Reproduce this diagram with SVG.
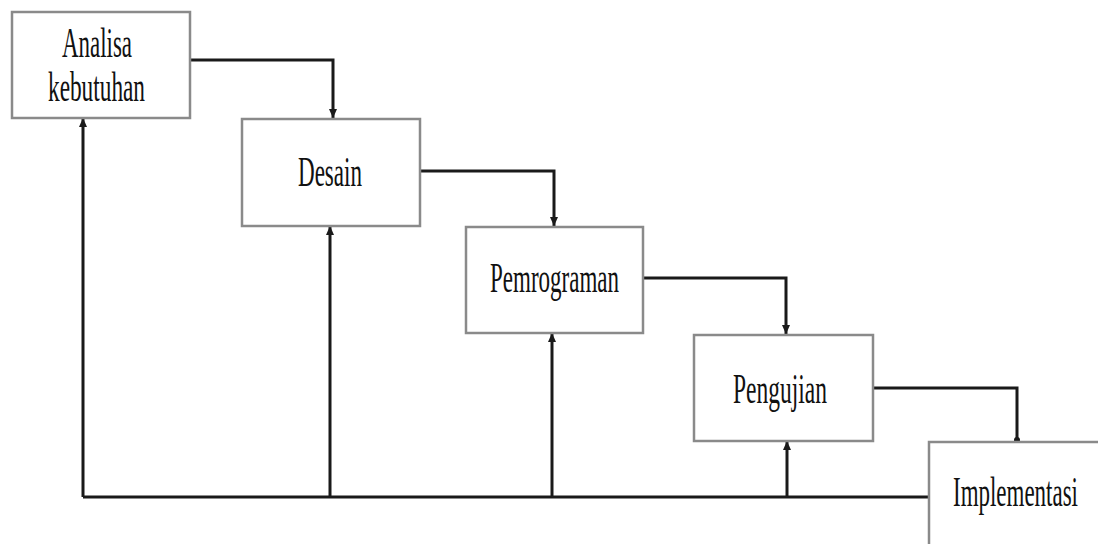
<svg xmlns="http://www.w3.org/2000/svg" width="1098" height="544" viewBox="0 0 1098 544">
<defs>
<marker id="ah" markerWidth="10" markerHeight="10" refX="9" refY="5" orient="auto" markerUnits="userSpaceOnUse" viewBox="0 0 10 10">
<path d="M0,1 L9,5 L0,9 Z" fill="#1a1a1a"/>
</marker>
<marker id="dot" markerWidth="8" markerHeight="8" refX="4" refY="4" markerUnits="userSpaceOnUse" viewBox="0 0 8 8">
<circle cx="4" cy="4" r="3" fill="#1a1a1a"/>
</marker>
</defs>
<style>
.box{fill:#fff;stroke:#8a8a8a;stroke-width:2.5}
.lbl{font-family:"Liberation Serif","Times New Roman",serif;font-size:42px;fill:#111}
.ln{fill:none;stroke:#1a1a1a;stroke-width:3}
</style>
<rect width="1098" height="544" fill="#fff"/>
<g id="connectors">
<path class="ln" d="M190,60 H333 V118" marker-end="url(#ah)"/>
<path class="ln" d="M420,171 H554 V226" marker-end="url(#ah)"/>
<path class="ln" d="M643,278 H786 V334" marker-end="url(#ah)"/>
<path class="ln" d="M873,388 H1017 V440" marker-end="url(#dot)"/>
<path class="ln" d="M929,497 H83"/>
<path class="ln" d="M83,497 V118" marker-end="url(#ah)"/>
<path class="ln" d="M330,497 V226" marker-end="url(#ah)"/>
<path class="ln" d="M552,497 V333" marker-end="url(#ah)"/>
<path class="ln" d="M787,497 V441" marker-end="url(#ah)"/>
</g>
<g id="n1"><rect class="box" x="12" y="12" width="178" height="106"/>
<text class="lbl" x="62" y="57" textLength="70" lengthAdjust="spacingAndGlyphs">Analisa</text>
<text class="lbl" x="48" y="101" textLength="97" lengthAdjust="spacingAndGlyphs">kebutuhan</text></g>
<g id="n2"><rect class="box" x="242" y="119" width="178" height="107"/>
<text class="lbl" x="298" y="186" textLength="64" lengthAdjust="spacingAndGlyphs">Desain</text></g>
<g id="n3"><rect class="box" x="466" y="227" width="177" height="106"/>
<text class="lbl" x="490" y="292" textLength="129" lengthAdjust="spacingAndGlyphs">Pemrograman</text></g>
<g id="n4"><rect class="box" x="694" y="335" width="179" height="106"/>
<text class="lbl" x="733" y="403" textLength="94" lengthAdjust="spacingAndGlyphs">Pengujian</text></g>
<g id="n5"><rect class="box" x="929" y="442" width="180" height="120"/>
<text class="lbl" x="953" y="506" textLength="125" lengthAdjust="spacingAndGlyphs">Implementasi</text></g>
</svg>
